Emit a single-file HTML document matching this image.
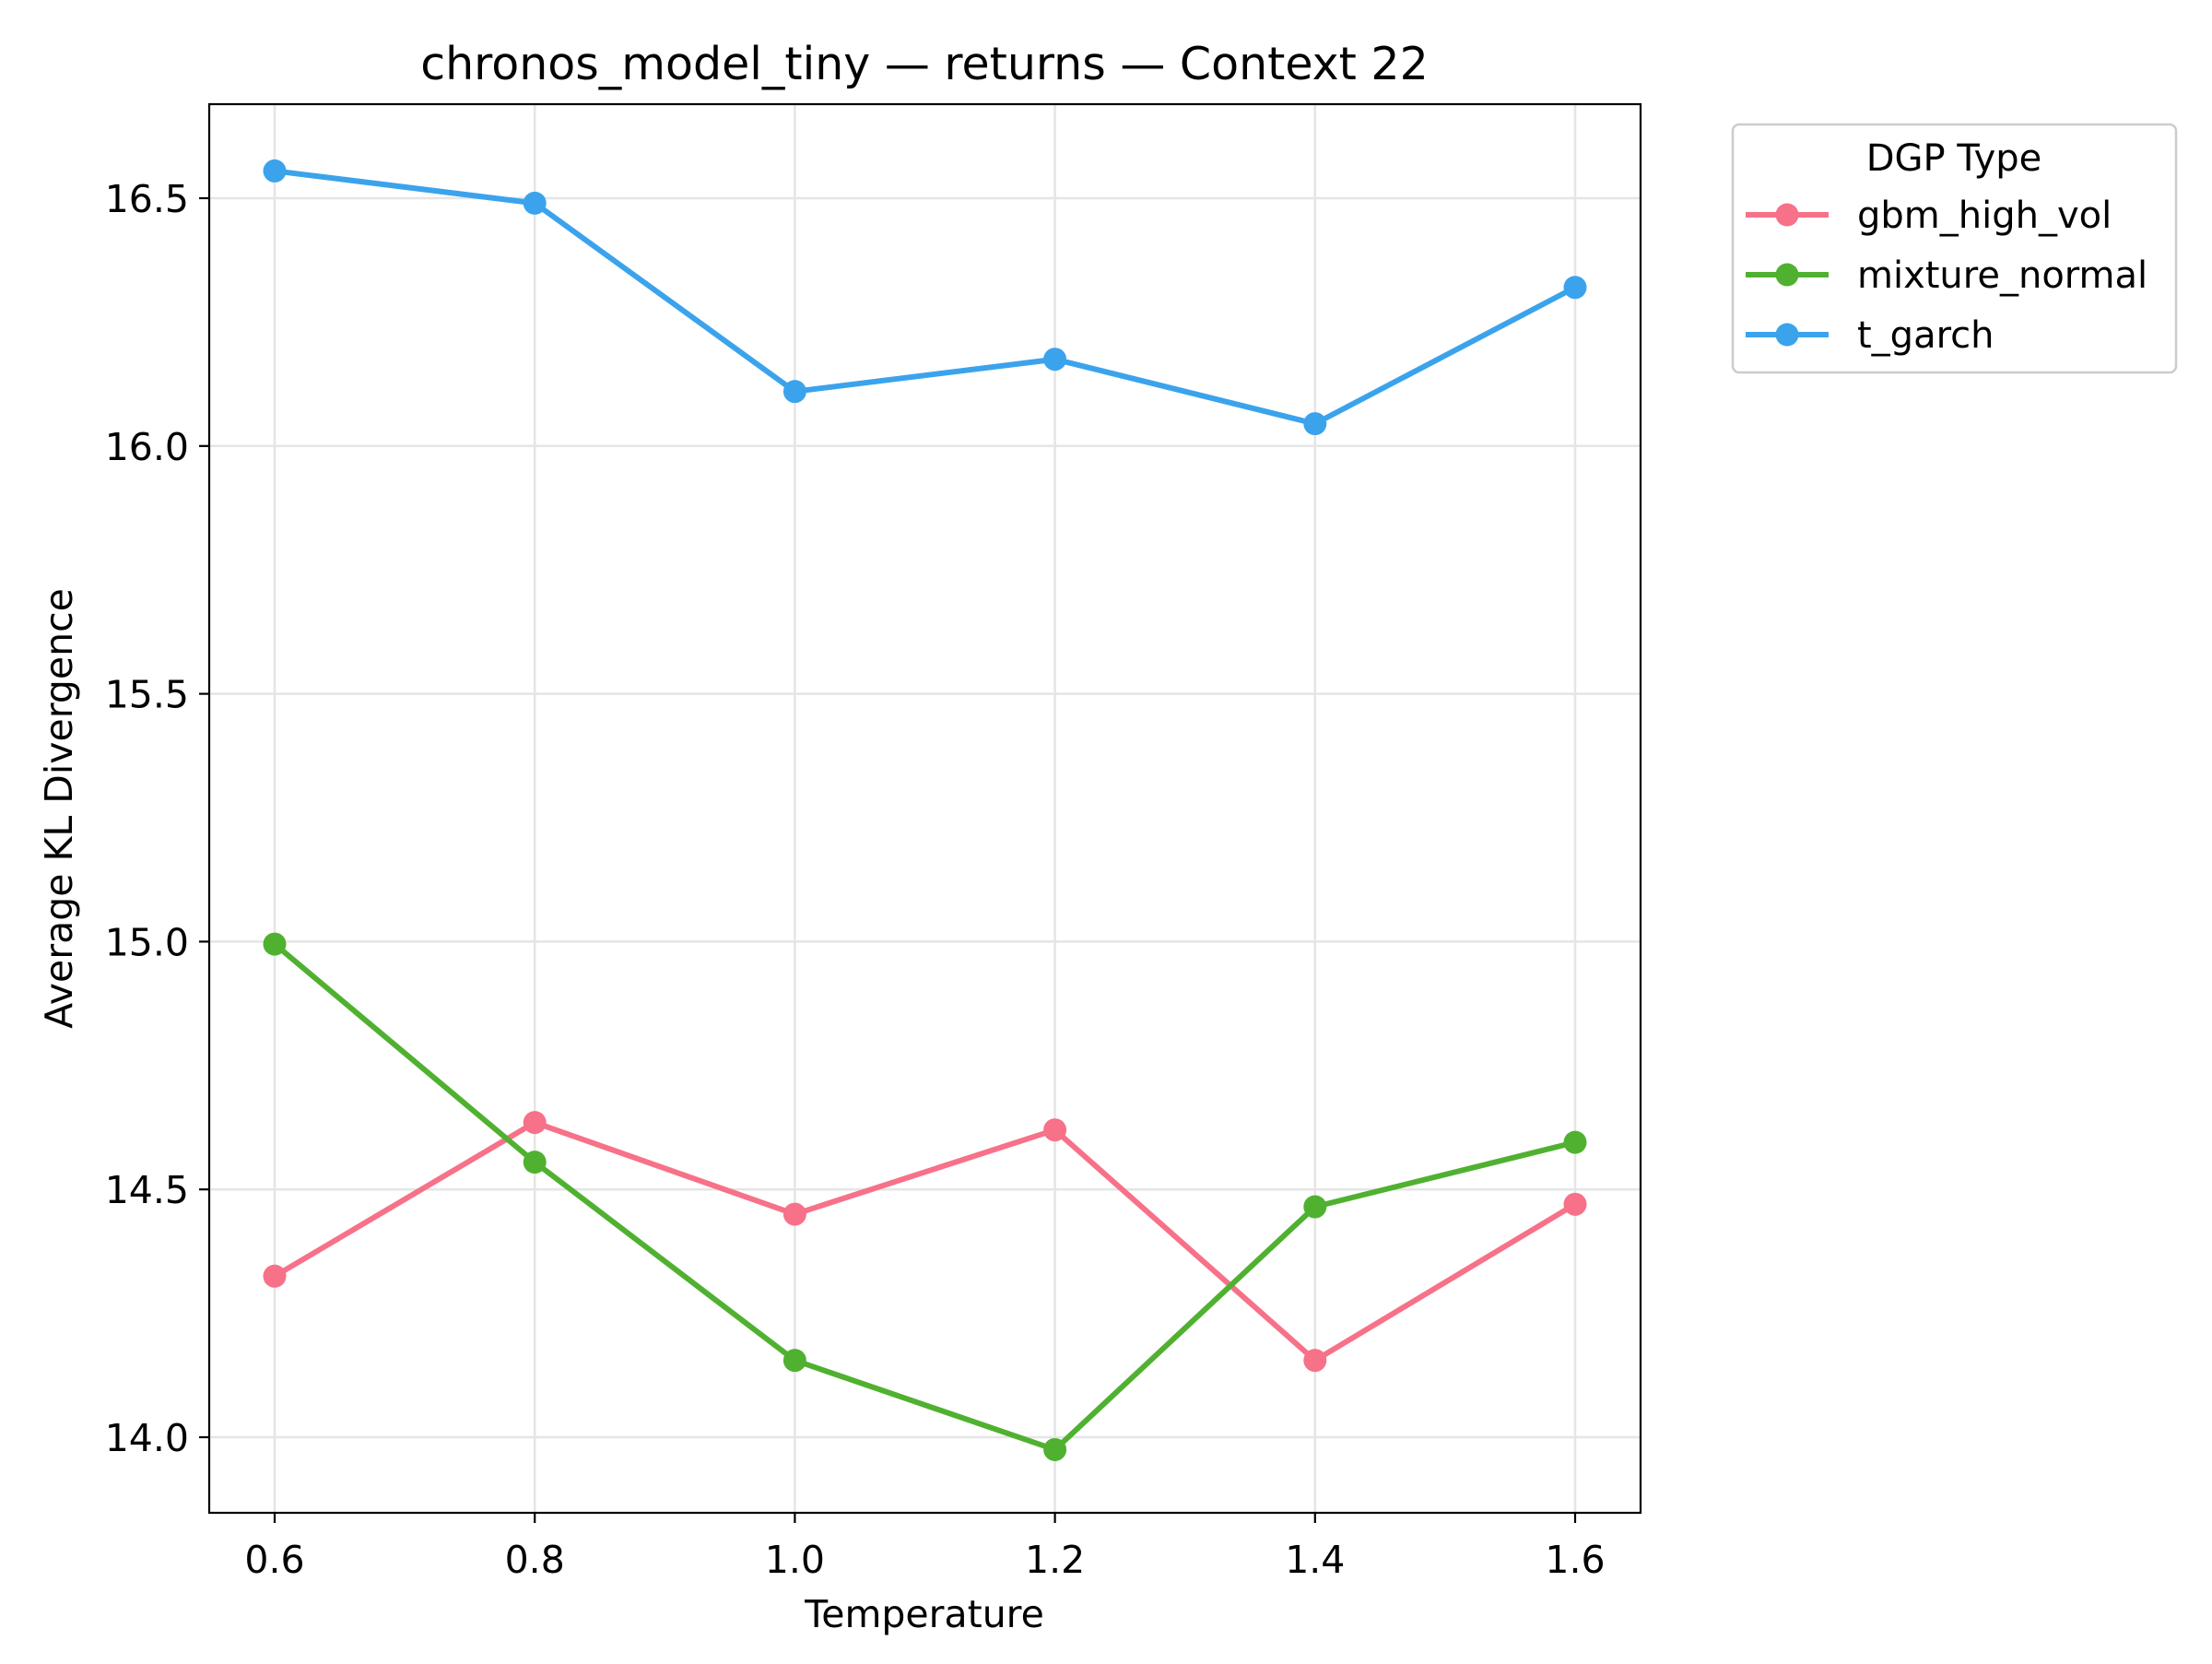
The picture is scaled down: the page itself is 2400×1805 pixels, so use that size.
<!DOCTYPE html>
<html><head><meta charset="utf-8"><style>
body{margin:0;background:#fff}
text{font-family:"DejaVu Sans","Liberation Sans",sans-serif;fill:#000}
</style></head><body>
<svg id="chart" width="2400" height="1800" viewBox="0 0 2400 1800" xmlns="http://www.w3.org/2000/svg">
<rect width="2400" height="1800" fill="#fff"/>
<g id="grid"></g>
<g id="series"></g>
<rect x="227" y="113" width="1553" height="1528" fill="none" stroke="#000" stroke-width="2.2"/>
<g id="ticks"></g>
<text x="1003" y="86" font-size="49" text-anchor="middle">chronos_model_tiny — returns — Context 22</text>
<text x="1003" y="1765" font-size="41" text-anchor="middle">Temperature</text>
<text transform="translate(78,877) rotate(-90)" font-size="41" text-anchor="middle">Average KL Divergence</text>
<g>
<rect x="1880" y="135" width="481" height="269" rx="7" fill="#fff" stroke="#ccc" stroke-width="2.5"/>
<text x="2120" y="185" font-size="40" text-anchor="middle">DGP Type</text>
<g id="legend-items"></g>
</g>
</svg>
<script>
const categories=[0.6,0.8,1.0,1.2,1.4,1.6];
const gbmHighVol=[14.325,14.635,14.45,14.62,14.155,14.47];
const mixtureNormal=[14.995,14.555,14.155,13.975,14.465,14.595];
const tGarch=[16.555,16.49,16.11,16.175,16.045,16.32];
const xTicks=["0.6","0.8","1.0","1.2","1.4","1.6"];
const yTicks=["14.0","14.5","15.0","15.5","16.0","16.5"];
const NS="http://www.w3.org/2000/svg";
const L=227,R=1780,T=113,B=1641;
function xs(v){return 298+(v-0.6)*(1709-298)/1.0;}
function ys(v){return 1559-(v-14.0)*(1559-215)/2.5;}
function mk(tag,attrs,parent){const e=document.createElementNS(NS,tag);for(const k in attrs)e.setAttribute(k,attrs[k]);parent.appendChild(e);return e;}
const grid=document.getElementById('grid'),ticks=document.getElementById('ticks'),ser=document.getElementById('series'),leg=document.getElementById('legend-items');
xTicks.forEach(t=>{const x=xs(parseFloat(t));
 const g=mk('line',{x1:x,x2:x,y1:T,y2:B,stroke:'#e5e5e5','stroke-width':2.5},grid);
 
 
 const tk=mk('line',{x1:x,x2:x,y1:B,y2:B+11,stroke:'#000','stroke-width':2.2},ticks);
 
 
 const tx=mk('text',{x:x,y:B+65,'font-size':41,'text-anchor':'middle'},ticks);tx.textContent=t;
 
 
});
yTicks.forEach(t=>{const y=ys(parseFloat(t));
 const g=mk('line',{x1:L,x2:R,y1:y,y2:y,stroke:'#e5e5e5','stroke-width':2.5},grid);
 
 
 const tk=mk('line',{x1:L-11,x2:L,y1:y,y2:y,stroke:'#000','stroke-width':2.2},ticks);
 
 
 const tx=mk('text',{x:L-22,y:y+15,'font-size':41,'text-anchor':'end'},ticks);tx.textContent=t;
 
 
});
const series=[["gbm_high_vol",gbmHighVol,"#f77189"],["mixture_normal",mixtureNormal,"#50b131"],["t_garch",tGarch,"#3ba3ec"]];
series.forEach((s,i)=>{
 const g=mk('g',{},ser);
 
 
 const pts=s[1].map((v,j)=>xs(categories[j])+','+ys(v)).join(' ');
 const pl=mk('polyline',{points:pts,fill:'none',stroke:s[2],'stroke-width':6,'stroke-linejoin':'round'},g);
 
 
 s[1].forEach((v,j)=>{const c=mk('circle',{cx:xs(categories[j]),cy:ys(v),r:12.5,fill:s[2]},g);
  
  });
 const ly=233+i*65;
 const lg=mk('g',{},leg);
 
 
 mk('line',{x1:1894,x2:1984,y1:ly,y2:ly,stroke:s[2],'stroke-width':6},lg);
 mk('circle',{cx:1939,cy:ly,r:12.5,fill:s[2]},lg);
 const t=mk('text',{x:2015,y:ly+14,'font-size':40},lg);t.textContent=s[0];
});
</script>
</body></html>
